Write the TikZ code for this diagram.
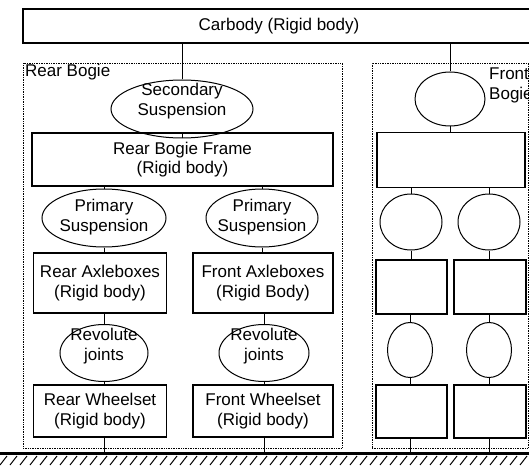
\documentclass[tikz,border=0pt]{standalone}
\usepackage{fontspec}
\setmainfont{Liberation Sans}
\usetikzlibrary{shapes.geometric}

\begin{document}
\begin{tikzpicture}[x=1pt ,y=-1pt ,font=\fontsize{17}{19.5}\selectfont ,
	body/.style ={ rectangle ,draw ,line width=1.4pt ,align=center ,inner sep=0pt},
	spring/.style ={ ellipse ,draw ,line width=1pt ,inner sep=0pt},
	txt/.style ={ align=center ,inner sep=0pt},
	bogie/.style ={ rectangle ,draw ,densely dotted ,line width=0.7pt ,inner sep=0pt},
	link/.style ={ line width=1pt}]
	\useasboundingbox (0,0) rectangle (529,465);
	\node[body, minimum width=512, minimum height=34] (car) at (279,26) {Carbody (Rigid body)};
	\node[bogie, minimum width=319, minimum height=385] (rear) at (182.5,255.5) {};
	\node[bogie, minimum width=156, minimum height=385] (front) at (450,255.5) {};
	\node[txt, anchor=north west] (rearL) at (25,64) {Rear Bogie};
	\node[txt, anchor=north west, align=left] (frontL) at (489,68) {Front\\Bogie};
	% secondary suspension
	\node[spring, minimum width=142, minimum height=58] (rs) at (182,109) {};
	\node[txt] (rsT) at (182,101) {Secondary\\Suspension};
	\node[spring, minimum width=70, minimum height=54] (fs) at (450,99) {};
	% bogie frames
	\node[body, minimum width=301, minimum height=53] (rframe) at (182.5,159.5) {Rear Bogie Frame\\(Rigid body)};
	\node[body, minimum width=148, minimum height=55] (fframe) at (451,160) {};
	% primary suspension
	\node[spring, minimum width=124, minimum height=58] (rp1) at (104,218) {};
	\node[txt] (rp1T) at (104,217) {Primary\\Suspension};
	\node[spring, minimum width=112, minimum height=58] (rp2) at (262,218) {};
	\node[txt] (rp2T) at (262,217) {Primary\\Suspension};
	\node[spring, minimum width=62, minimum height=56] (fp1) at (411,222) {};
	\node[spring, minimum width=62, minimum height=56] (fp2) at (489,222) {};
	% axleboxes
	\node[body, minimum width=133, minimum height=60] (ra1) at (100,283) {Rear Axleboxes\\(Rigid body)};
	\node[body, minimum width=140, minimum height=60] (ra2) at (263,283) {Front Axleboxes\\(Rigid Body)};
	\node[body, minimum width=71, minimum height=54] (fa1) at (411.5,287) {};
	\node[body, minimum width=72, minimum height=54] (fa2) at (490,287) {};
	% revolute joints
	\node[spring, minimum width=88, minimum height=57] (rj1) at (104,353) {};
	\node[txt] (rj1T) at (104,346) {Revolute\\joints};
	\node[spring, minimum width=90, minimum height=57] (rj2) at (264,353) {};
	\node[txt] (rj2T) at (264,346) {Revolute\\joints};
	\node[spring, minimum width=45, minimum height=55] (fj1) at (410,350) {};
	\node[spring, minimum width=45, minimum height=55] (fj2) at (489,350) {};
	% wheelsets
	\node[body, minimum width=133, minimum height=52] (rw1) at (100,411) {Rear Wheelset\\(Rigid body)};
	\node[body, minimum width=140, minimum height=52] (rw2) at (263,411) {Front Wheelset\\(Rigid body)};
	\node[body, minimum width=71, minimum height=53] (fw1) at (411.5,411.5) {};
	\node[body, minimum width=72, minimum height=53] (fw2) at (490,411.5) {};
	% ground
	\coordinate (gl) at (0,453.5);
	\coordinate (gr) at (529,453.5);
	\draw[line width=3pt] (gl) -- (gr);
	\foreach \x in {-10,0,...,530}
		\draw[line width=1pt] (\x,465) -- ++(7,-9);
	% connectors
	\draw[link] (car.south -| rs.north) -- (rs.north);
	\draw[link] (rs.south) -- (rs.south |- rframe.north);
	\draw[link] (car.south -| fs.north) -- (fs.north);
	\draw[link] (fs.south) -- (fs.south |- fframe.north);
	\foreach \f/\p/\a/\j/\w in {rframe/rp1/ra1/rj1/rw1, rframe/rp2/ra2/rj2/rw2,
		fframe/fp1/fa1/fj1/fw1, fframe/fp2/fa2/fj2/fw2}{
		\draw[link] (\f.south -| \p.north) -- (\p.north);
		\draw[link] (\p.south) -- (\p.south |- \a.north);
		\draw[link] (\a.south -| \j.north) -- (\j.north);
		\draw[link] (\j.south) -- (\j.south |- \w.north);
		\draw[link] (\w.south -| \j.south) -- (\j.south |- gl);
	}
\end{tikzpicture}
\end{document}
